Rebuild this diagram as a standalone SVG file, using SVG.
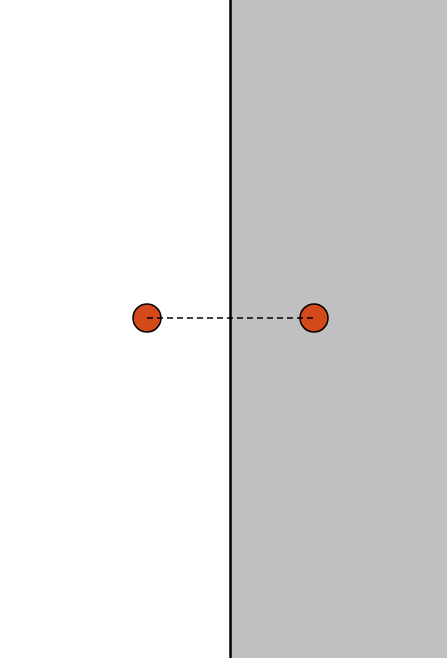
<svg xmlns="http://www.w3.org/2000/svg" width="447" height="658" viewBox="0 0 447 658">
<style>
.node{fill:#d4491a;stroke:#000;stroke-width:1.5}
.conn{stroke:#000;stroke-width:1.5;stroke-dasharray:6,4;fill:none}
</style>
<rect x="0" y="0" width="447" height="658" fill="#fff"/>
<rect x="230" y="0" width="217" height="658" fill="#c0c0c0"/>
<line x1="230.5" y1="0" x2="230.5" y2="658" stroke="#000" stroke-width="2.5"/>
<g id="n1"><circle class="node" cx="147" cy="318" r="14"/></g>
<g id="n2"><circle class="node" cx="314" cy="318" r="14"/></g>
<g id="connectors"><line class="conn" x1="147" y1="318" x2="314" y2="318"/></g>
</svg>
